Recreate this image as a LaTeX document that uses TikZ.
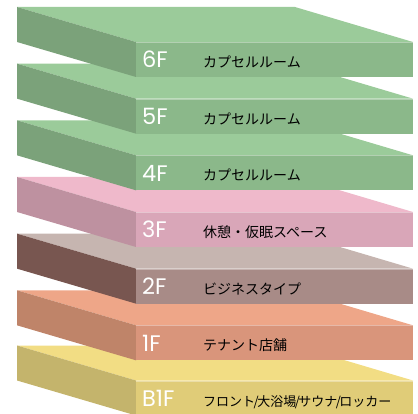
\documentclass[tikz,border=0pt]{standalone}
\usepackage{fontspec}
\setmainfont{Noto Sans CJK JP}
\newfontfamily\flfont{Poppins}
\definecolor{gTop}{HTML}{9BCB9A}
\definecolor{gFront}{HTML}{8BB88A}
\definecolor{gLeft}{HTML}{7BA27A}
\definecolor{pTop}{HTML}{EFB9CB}
\definecolor{pFront}{HTML}{D9A6B8}
\definecolor{pLeft}{HTML}{BE91A0}
\definecolor{bTop}{HTML}{C6B5B0}
\definecolor{bFront}{HTML}{A88B87}
\definecolor{bLeft}{HTML}{785650}
\definecolor{oTop}{HTML}{EEA688}
\definecolor{oFront}{HTML}{D9957B}
\definecolor{oLeft}{HTML}{BF8469}
\definecolor{yTop}{HTML}{F2DD84}
\definecolor{yFront}{HTML}{E0CC78}
\definecolor{yLeft}{HTML}{C4B46C}
\tikzset{
  floorlabel/.style={anchor=base west, inner sep=0pt, text=white, font=\flfont\fontsize{22.5}{22.5}\selectfont},
  roomlabel/.style={anchor=base west, inner sep=0pt, text=black, font=\fontsize{14}{14}\selectfont},
}
\newcommand{\myslash}{\kern-1.5pt/\kern-1.5pt}
% #1 offset, #2 colour prefix, #3 floor, #4 room text, #5 name
\newcommand{\floorslab}[5]{%
  \fill[#2Top] (17,{7+#1}) -- (295,{7+#1}) -- (413,{42+#1}) -- (136,{42+#1}) -- cycle;
  \fill[#2Left] (17,{7+#1}) -- (136,{42+#1}) -- (136,{77+#1}) -- (17,{42+#1}) -- cycle;
  \fill[#2Front] (136,{42+#1}) rectangle (413,{77+#1});
  \draw[white, opacity=0.35, line width=0.6pt] (136,{42.3+#1}) -- (413,{42.3+#1});
  \node[floorlabel] (#5f) at (142,{68+#1}) {#3};
  \node[roomlabel] (#5r) at (203,{67.5+#1}) {#4};
}
\begin{document}
\begin{tikzpicture}[x=1pt,y=-1pt]
\useasboundingbox (0,0) rectangle (418,414);
\clip (0,0) rectangle (418,414);
\floorslab{338.5}{y}{B1F}{\fontsize{13}{13}\selectfont フロント\myslash 大浴場\myslash サウナ\myslash ロッカー}{base}
\floorslab{283.33}{o}{1F}{テナント店舗}{one}
\floorslab{226.67}{b}{2F}{ビジネスタイプ}{two}
\floorslab{170}{p}{3F}{休憩・仮眠スペース}{three}
\floorslab{113.33}{g}{4F}{カプセルルーム}{four}
\floorslab{56.67}{g}{5F}{カプセルルーム}{five}
\floorslab{0}{g}{6F}{カプセルルーム}{six}
\end{tikzpicture}
\end{document}
